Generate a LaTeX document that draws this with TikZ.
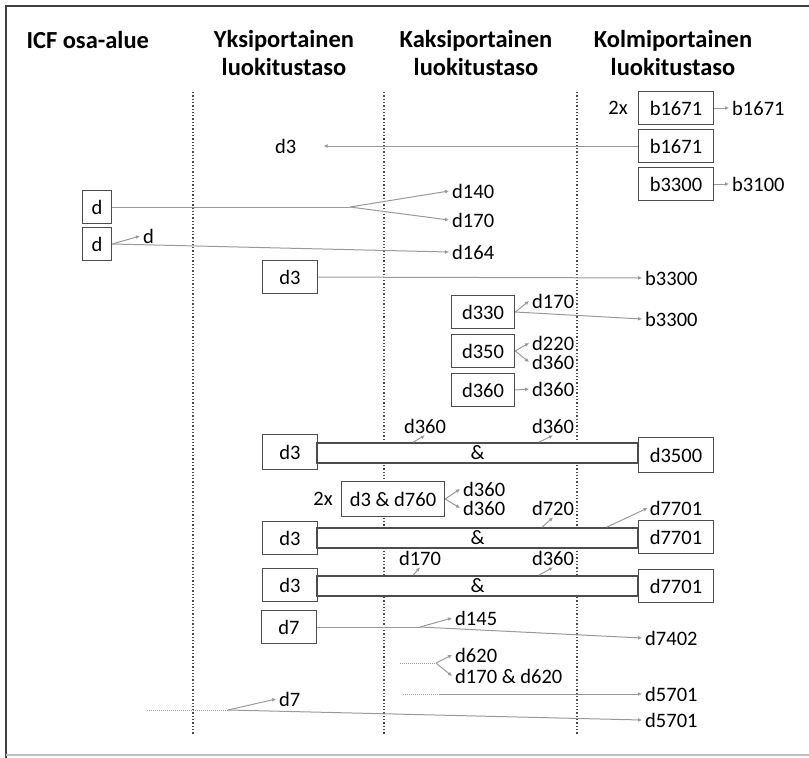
\documentclass[tikz,border=0pt]{standalone}
\usepackage{fontspec}
\setmainfont{Carlito}
\usetikzlibrary{arrows.meta, calc}

\begin{document}
\begin{tikzpicture}[x=1pt, y=-1pt, font=\fontsize{20.5}{24}\selectfont]
				% Setup the styles
				\tikzset{box style/.style={draw=black!70,
											line width=1.5pt,
											fill=white,
											minimum height=33pt,
											inner sep=0pt},
						 bar style/.style={draw=black!70,
											line width=1.5pt,
											fill=white,
											minimum width=321pt,
											minimum height=20pt,
											inner sep=0pt},
						 head style/.style={font=\fontsize{24.5}{28}\selectfont\bfseries,
											align=center},
						 code style/.style={anchor=west, inner sep=3pt},
						 tag style/.style={inner sep=2pt},
						 link style/.style={draw=black!40, line width=1pt},
						 arrow style/.style={link style,
											-{Latex[length=4pt, width=4pt]}},
						 level style/.style={draw=black!70, line width=1.3pt, dotted}}
				\useasboundingbox (0,0) rectangle (809,758);
				% Frame
				\draw[black!75, line width=1.5pt] (6,758) -- (6,6) -- (809,6);
				\draw[black!25, line width=1.2pt] (6,755) -- (809,755);
				% Column heads
				\node[head style, anchor=west] at (23, 40)  (h1) {ICF osa-alue};
				\node[head style] at (284, 53) (h2) {Yksiportainen\\luokitustaso};
				\node[head style] at (476, 53) (h3) {Kaksiportainen\\luokitustaso};
				\node[head style] at (673, 53) (h4) {Kolmiportainen\\luokitustaso};
				% Level separators
				\foreach \x in {193, 384, 577}
					\draw[level style] (\x, 92) -- (\x, 735);
				% Draw the boxes
				\node[box style, minimum width=75pt] at (676, 108) (k1) {b1671};
				\node[box style, minimum width=75pt] at (676, 146) (k2) {b1671};
				\node[box style, minimum width=75pt] at (676, 184) (k3) {b3300};
				\node[box style, minimum width=29pt] at (97, 207)  (d1) {d};
				\node[box style, minimum width=29pt] at (97, 244)  (d2) {d};
				\node[box style, minimum width=55pt] at (290, 277) (y1) {d3};
				\node[box style, minimum width=63pt] at (483, 312) (m1) {d330};
				\node[box style, minimum width=63pt] at (483, 351) (m2) {d350};
				\node[box style, minimum width=63pt] at (483, 390) (m3) {d360};
				\node[box style, minimum width=55pt, minimum height=35pt] at (290, 452) (y2) {d3};
				\node[bar style] at (477.5, 453) (bar1) {\&};
				\node[box style, minimum width=75pt, minimum height=35pt] at (676, 455) (k4) {d3500};
				\node[box style, minimum width=103pt, minimum height=35pt] at (393, 499) (z1) {d3 \& d760};
				\node[box style, minimum width=55pt] at (290, 538) (y3) {d3};
				\node[bar style] at (477.5, 538) (bar2) {\&};
				\node[box style, minimum width=75pt] at (676, 537) (k5) {d7701};
				\node[box style, minimum width=55pt] at (290, 585) (y4) {d3};
				\node[bar style] at (477.5, 586) (bar3) {\&};
				\node[box style, minimum width=75pt] at (676, 586) (k6) {d7701};
				\node[box style, minimum width=55pt] at (289, 627) (y5) {d7};
				% Draw the codes
				\node at (618, 108) (n1) {2x};
				\node at (323, 499) (n2) {2x};
				\node[code style] at (729, 108) (r1) {b1671};
				\node[code style] at (272, 146) (l1) {d3};
				\node[code style] at (729, 184) (r2) {b3100};
				\node[code style] at (449, 191) (c1) {d140};
				\node[code style] at (449, 220) (c2) {d170};
				\node[code style] at (140, 236) (c3) {d};
				\node[code style] at (449, 252) (c4) {d164};
				\node[code style] at (642, 278) (r3) {b3300};
				\node[code style] at (529, 301) (m1a) {d170};
				\node[code style] at (642, 319) (r4) {b3300};
				\node[code style] at (529, 343) (m2a) {d220};
				\node[code style] at (529, 362) (m2b) {d360};
				\node[code style] at (529, 389) (m3a) {d360};
				\node[tag style] at (425, 426) (a1) {d360};
				\node[tag style] at (553, 426) (a2) {d360};
				\node[code style] at (460, 489) (z1a) {d360};
				\node[code style] at (460, 508) (z1b) {d360};
				\node[tag style] at (553, 508) (b1) {d720};
				\node[tag style] at (676, 508) (b2) {d7701};
				\node[tag style] at (420, 558) (c5) {d170};
				\node[tag style] at (553, 558) (c6) {d360};
				\node[code style] at (452, 618) (e1) {d145};
				\node[code style] at (642, 638) (r5) {d7402};
				\node[code style] at (452, 655) (e2) {d620};
				\node[code style] at (452, 676) (e3) {d170 \& d620};
				\node[code style] at (642, 694) (r6) {d5701};
				\node[code style] at (276, 699) (e4) {d7};
				\node[code style] at (642, 720) (r7) {d5701};
				% Split points
				\coordinate (s1) at (350, 207);
				\coordinate (s2) at (420, 627);
				\coordinate (t1) at (400, 663);
				\coordinate (s3) at (436, 663);
				\coordinate (t2) at (403, 694);
				\coordinate (s4) at (440, 694);
				\coordinate (t3) at (147, 710);
				\coordinate (s5) at (228, 710);
				% Connect the codes
				\draw[arrow style] (k1) -- (r1);
				\draw[arrow style] (k2) -- ([xshift=24pt]l1.east);
				\draw[arrow style] (k3) -- (r2);
				\draw[link style] (d1) -- (s1);
				\draw[arrow style] (s1) -- (c1.west);
				\draw[arrow style] (s1) -- (c2.west);
				\draw[arrow style] (d2.east) -- (c3.west);
				\draw[arrow style] (d2.east) -- (c4.west);
				\draw[arrow style] (y1) -- (r3);
				\draw[arrow style] (m1.east) -- (m1a.west);
				\draw[arrow style] (m1.east) -- (r4.west);
				\draw[arrow style] (m2.east) -- (m2a.west);
				\draw[arrow style] (m2.east) -- (m2b.west);
				\draw[arrow style] (m3.east) -- (m3a.west);
				\draw[arrow style] ($(bar1.north west)!0.30!(bar1.north east)$) -- (a1.south);
				\draw[arrow style] ($(bar1.north west)!0.69!(bar1.north east)$) -- (a2.south);
				\draw[arrow style] (z1.east) -- (z1a.west);
				\draw[arrow style] (z1.east) -- (z1b.west);
				\draw[arrow style] ($(bar2.north west)!0.70!(bar2.north east)$) -- (b1.south);
				\draw[arrow style] ($(bar2.north west)!0.90!(bar2.north east)$) -- (b2.west);
				\draw[arrow style] ($(bar3.north west)!0.30!(bar3.north east)$) -- (c5.south);
				\draw[arrow style] ($(bar3.north west)!0.69!(bar3.north east)$) -- (c6.south);
				\draw[link style] (y5) -- (s2);
				\draw[arrow style] (s2) -- (e1.west);
				\draw[arrow style] (s2) -- (r5.west);
				\draw[link style, densely dotted] (t1) -- (s3);
				\draw[arrow style] (s3) -- (e2.west);
				\draw[arrow style] (s3) -- (e3.west);
				\draw[link style, densely dotted] (t2) -- (s4);
				\draw[arrow style] (s4) -- (r6.west);
				\draw[link style, densely dotted] (t3) -- (s5);
				\draw[arrow style] (s5) -- (e4.west);
				\draw[arrow style] (s5) -- (r7.west);
\end{tikzpicture}
\end{document}
